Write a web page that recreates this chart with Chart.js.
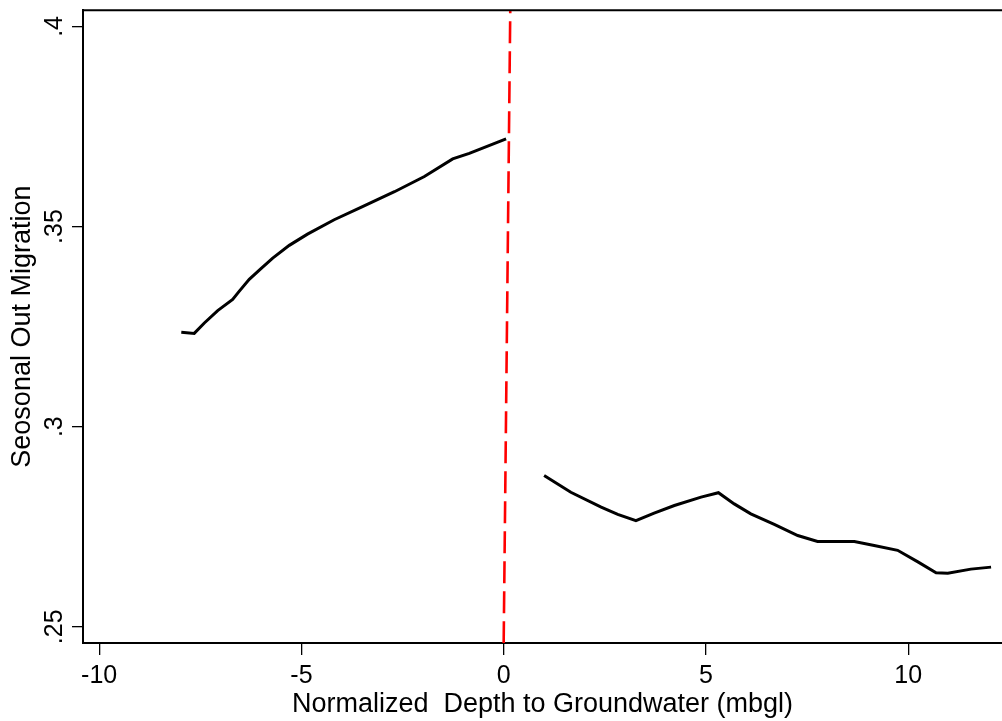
<!DOCTYPE html>
<html>
<head>
<meta charset="utf-8">
<script src="https://cdn.jsdelivr.net/npm/chart.js@4"></script>
<style>
  html, body { margin: 0; padding: 0; background: #fff; }
  #wrap { width: 1002px; height: 721px; }
</style>
</head>
<body>
<div id="wrap"><canvas id="rdChart" width="1002" height="721"></canvas></div>
<script>
// left of cutoff
const leftX = [-7.97, -7.65, -7.40, -7.07, -6.70, -6.54, -6.29, -6.00, -5.71, -5.30, -4.85, -4.19, -3.53, -2.70, -1.96, -1.26, -0.85, 0.06];
const leftY = [0.3236, 0.3233, 0.3259, 0.3290, 0.3318, 0.3338, 0.3368, 0.3395, 0.3421, 0.3453, 0.3481, 0.3517, 0.3548, 0.3587, 0.3625, 0.3669, 0.3683, 0.3719];
// right of cutoff
const rightX = [1.00, 1.66, 2.41, 2.82, 3.27, 3.72, 4.22, 4.88, 5.31, 5.70, 6.11, 6.69, 7.27, 7.76, 8.67, 9.16, 9.74, 10.24, 10.69, 10.98, 11.55, 12.05];
const rightY = [0.2878, 0.2836, 0.2799, 0.2781, 0.2765, 0.2784, 0.2803, 0.2824, 0.2835, 0.2807, 0.2782, 0.2756, 0.2728, 0.2713, 0.2713, 0.2703, 0.2691, 0.2662, 0.2635, 0.2634, 0.2644, 0.2649];
// red dashed cutoff line
const cutoffX = [0, 0.163];
const cutoffY = [0.2459, 0.4041];

const xTicks = [-10, -5, 0, 5, 10];
const yTicks = [0.25, 0.3, 0.35, 0.4];
const yTickLabels = ['.25', '.3', '.35', '.4'];

const FONT = '"Liberation Sans", Arial, sans-serif';

const toPoints = (xs, ys) => xs.map((x, i) => ({ x: x, y: ys[i] }));

// top frame line + rotated y tick labels (Stata style)
const frameAndLabels = {
    id: 'frameAndLabels',
    afterDraw(chart) {
        const { ctx, chartArea } = chart;
        const y = chart.scales.y;
        ctx.save();
        ctx.strokeStyle = '#000';
        ctx.lineWidth = 2;
        ctx.beginPath();
        ctx.moveTo(chartArea.left, chartArea.top);
        ctx.lineTo(chartArea.right, chartArea.top);
        ctx.stroke();

        ctx.font = '25px ' + FONT;
        ctx.fillStyle = '#000';
        ctx.textAlign = 'center';
        ctx.textBaseline = 'alphabetic';
        const baseX = y.right - 11 - 10;
        yTicks.forEach((v, i) => {
            ctx.save();
            ctx.translate(baseX, y.getPixelForValue(v));
            ctx.rotate(-Math.PI / 2);
            ctx.fillText(yTickLabels[i], 0, 0);
            ctx.restore();
        });
        ctx.restore();
    }
};

new Chart(document.getElementById('rdChart'), {
    type: 'line',
    data: {
        datasets: [
            {
                data: toPoints(leftX, leftY),
                borderColor: '#000',
                borderWidth: 3,
                pointRadius: 0,
                tension: 0,
                fill: false,
            },
            {
                data: toPoints(rightX, rightY),
                borderColor: '#000',
                borderWidth: 3,
                pointRadius: 0,
                tension: 0,
                fill: false,
            },
            {
                data: toPoints(cutoffX, cutoffY),
                borderColor: '#ff0000',
                borderWidth: 2.6,
                borderDash: [22, 8],
                pointRadius: 0,
                tension: 0,
                fill: false,
            }
        ],
    },
    options: {
        responsive: false,
        animation: false,
        devicePixelRatio: 1,
        layout: {
            padding: { top: 8, right: 0, bottom: 0, left: 0 },
        },
        plugins: {
            legend: { display: false },
            tooltip: { enabled: false },
        },
        scales: {
            x: {
                type: 'linear',
                min: -10.40,
                max: 12.32,
                afterBuildTicks: s => { s.ticks = xTicks.map(v => ({ value: v })); },
                afterFit: s => { s.height = 78; },
                grid: { drawOnChartArea: false, drawTicks: true, tickLength: 12, color: '#000', lineWidth: 1.3 },
                border: { display: true, color: '#000', width: 2 },
                ticks: {
                    color: '#000',
                    font: { family: FONT, size: 25 },
                    padding: 6,
                    maxRotation: 0,
                    callback: v => String(v),
                },
                title: {
                    display: true,
                    text: 'Normalized  Depth to Groundwater (mbgl)',
                    color: '#000',
                    font: { family: FONT, size: 27 },
                    padding: { top: 0, bottom: 0 },
                },
            },
            y: {
                type: 'linear',
                min: 0.24594,
                max: 0.40406,
                afterBuildTicks: s => { s.ticks = yTicks.map(v => ({ value: v })); },
                afterFit: s => { s.width = 83; },
                grid: { drawOnChartArea: false, drawTicks: true, tickLength: 11, color: '#000', lineWidth: 1.3 },
                border: { display: true, color: '#000', width: 2 },
                ticks: {
                    callback: () => '',
                },
                title: {
                    display: true,
                    text: 'Seosonal Out Migration',
                    color: '#000',
                    font: { family: FONT, size: 27 },
                    padding: { top: 6, bottom: 0 },
                },
            },
        },
    },
    plugins: [frameAndLabels],
});
</script>
</body>
</html>
